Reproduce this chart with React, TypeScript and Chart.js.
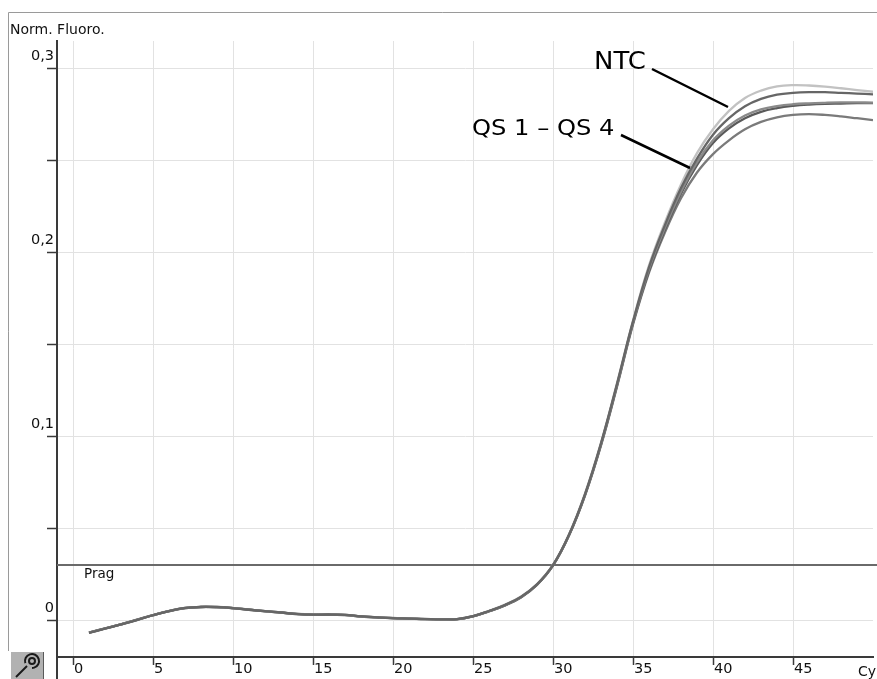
import { useEffect, useRef } from "react";
import { Chart, registerables } from "chart.js";

Chart.register(...registerables);

const CYCLES = [
  1, 2, 3, 4, 5, 6, 7, 8, 9, 10, 11, 12, 13, 14, 15, 16, 17, 18, 19, 20, 21, 22, 23, 24, 25,
  26, 27, 28, 29, 30, 31, 32, 33, 34, 35, 36, 37, 38, 39, 40, 41, 42, 43, 44, 45, 46, 47, 48, 49, 50,
];

const NTC = [
  -0.0068, -0.0045, -0.0022, 0.0002, 0.0028, 0.0051, 0.0066, 0.0071, 0.0071, 0.0066,
  0.0058, 0.0049, 0.0041, 0.0034, 0.0030, 0.0031, 0.0028, 0.0021, 0.0015, 0.0011,
  0.0009, 0.0006, 0.0005, 0.0006, 0.0023, 0.0051, 0.0085, 0.0129, 0.0197, 0.0302,
  0.0468, 0.0690, 0.0966, 0.1290, 0.1630, 0.1930, 0.2165, 0.2370, 0.2540, 0.2670,
  0.2770, 0.2840, 0.2880, 0.2903, 0.2910, 0.2908, 0.2902, 0.2893, 0.2883, 0.2874,
];
const QS1 = [
  -0.0069, -0.0046, -0.0023, 0.0001, 0.0027, 0.0050, 0.0067, 0.0073, 0.0072, 0.0066,
  0.0057, 0.0049, 0.0042, 0.0033, 0.0030, 0.0031, 0.0029, 0.0021, 0.0015, 0.0011,
  0.0009, 0.0007, 0.0005, 0.0006, 0.0022, 0.0050, 0.0083, 0.0127, 0.0195, 0.0300,
  0.0465, 0.0685, 0.0962, 0.1285, 0.1625, 0.1920, 0.2150, 0.2350, 0.2510, 0.2640,
  0.2730, 0.2795, 0.2835, 0.2858, 0.2868, 0.2872, 0.2872, 0.2868, 0.2864, 0.2860,
];
const QS2 = [
  -0.0068, -0.0045, -0.0022, 0.0002, 0.0027, 0.0050, 0.0067, 0.0072, 0.0071, 0.0065,
  0.0058, 0.0050, 0.0042, 0.0034, 0.0031, 0.0032, 0.0029, 0.0020, 0.0015, 0.0012,
  0.0009, 0.0006, 0.0005, 0.0006, 0.0022, 0.0049, 0.0082, 0.0126, 0.0194, 0.0299,
  0.0463, 0.0683, 0.0958, 0.1280, 0.1620, 0.1910, 0.2135, 0.2330, 0.2490, 0.2610,
  0.2690, 0.2745, 0.2778, 0.2796, 0.2806, 0.2811, 0.2814, 0.2816, 0.2816, 0.2815,
];
const QS3 = [
  -0.0067, -0.0044, -0.0022, 0.0003, 0.0028, 0.0050, 0.0066, 0.0072, 0.0071, 0.0066,
  0.0058, 0.0049, 0.0042, 0.0034, 0.0030, 0.0030, 0.0029, 0.0021, 0.0016, 0.0011,
  0.0008, 0.0006, 0.0005, 0.0006, 0.0021, 0.0049, 0.0081, 0.0125, 0.0193, 0.0298,
  0.0462, 0.0681, 0.0955, 0.1276, 0.1615, 0.1900, 0.2125, 0.2320, 0.2475, 0.2595,
  0.2675, 0.2730, 0.2765, 0.2785, 0.2797, 0.2804, 0.2808, 0.2810, 0.2812, 0.2812,
];
const QS4 = [
  -0.0068, -0.0045, -0.0023, 0.0002, 0.0027, 0.0049, 0.0066, 0.0072, 0.0072, 0.0066,
  0.0057, 0.0048, 0.0041, 0.0033, 0.0029, 0.0031, 0.0028, 0.0020, 0.0015, 0.0011,
  0.0009, 0.0006, 0.0005, 0.0005, 0.0021, 0.0048, 0.0080, 0.0124, 0.0192, 0.0297,
  0.0460, 0.0678, 0.0950, 0.1270, 0.1608, 0.1890, 0.2110, 0.2295, 0.2435, 0.2535,
  0.2610, 0.2670, 0.2710, 0.2735, 0.2748, 0.2752, 0.2748, 0.2740, 0.2730, 0.2720,
];

const SERIES_NAMES = ["NTC", "QS 1", "QS 2", "QS 3", "QS 4"];
const SERIES_VALUES = [NTC, QS1, QS2, QS3, QS4];
const SERIES_COLORS = ["#c2c2c2", "#666666", "#8a8a8a", "#5a5a5a", "#7a7a7a"];

const X_TICKS = [0, 5, 10, 15, 20, 25, 30, 35, 40, 45];
const Y_TICKS = [0, 0.05, 0.1, 0.15, 0.2, 0.25, 0.3];
const Y_TICK_LABELS = ["0", "", "0,1", "", "0,2", "", "0,3"];
const THRESHOLD = 0.03;
const X_MIN = -1;
const X_MAX = 50;
const Y_MIN = -0.02;
const Y_MAX = 0.315;

const Y_TITLE = "Norm. Fluoro.";
const X_TITLE = "Cy";
const THRESHOLD_LABEL = "Prag";
const NTC_LABEL = "NTC";
const QS_LABEL = "QS 1 – QS 4";

const FONT = "DejaVu Sans";

const decorations = {
  id: "decorations",
  afterDraw(chart: any) {
    const ctx = chart.ctx as CanvasRenderingContext2D;
    const area = chart.chartArea;
    const W = chart.width;
    ctx.save();
    // frame
    ctx.strokeStyle = "#9a9a9a";
    ctx.lineWidth = 1;
    ctx.beginPath();
    ctx.moveTo(8.5, 651);
    ctx.lineTo(8.5, 12.5);
    ctx.lineTo(W, 12.5);
    ctx.stroke();

    // y axis extension below x axis
    ctx.strokeStyle = "#3a3a3a";
    ctx.lineWidth = 2;
    ctx.beginPath();
    ctx.moveTo(area.left, area.bottom);
    ctx.lineTo(area.left, chart.height);
    ctx.stroke();

    // texts
    ctx.fillStyle = "#111";
    ctx.textBaseline = "alphabetic";
    ctx.textAlign = "left";
    ctx.font = `14px "${FONT}"`;
    ctx.fillText(Y_TITLE, 10, 34);
    ctx.fillText(X_TITLE, 858, 676);
    ctx.font = `13.5px "${FONT}"`;
    const ty = chart.scales.y.getPixelForValue(THRESHOLD);
    ctx.fillText(THRESHOLD_LABEL, 84, ty + 13);

    // annotations
    ctx.fillStyle = "#000";
    ctx.save();
    ctx.font = `24px "${FONT}"`;
    ctx.translate(594, 69);
    ctx.scale(1.08, 1);
    ctx.fillText(NTC_LABEL, 0, 0);
    ctx.restore();
    ctx.save();
    ctx.font = `22px "${FONT}"`;
    ctx.translate(472, 135);
    ctx.scale(1.1, 1);
    ctx.fillText(QS_LABEL, 0, 0);
    ctx.restore();

    ctx.strokeStyle = "#000";
    ctx.lineWidth = 2.5;
    ctx.beginPath();
    ctx.moveTo(652, 69);
    ctx.lineTo(728, 107);
    ctx.moveTo(621, 135);
    ctx.lineTo(690, 168);
    ctx.stroke();

    // wrench icon
    ctx.fillStyle = "#b2b2b2";
    ctx.fillRect(11, 652, 33, 27);
    ctx.strokeStyle = "#5a5a5a";
    ctx.lineWidth = 1;
    ctx.beginPath();
    ctx.moveTo(43.5, 652);
    ctx.lineTo(43.5, 679);
    ctx.stroke();
    ctx.strokeStyle = "#1a1a1a";
    ctx.lineWidth = 2;
    ctx.beginPath();
    ctx.moveTo(16, 677);
    ctx.lineTo(27, 666);
    ctx.stroke();
    ctx.beginPath();
    ctx.arc(32, 661, 7, Math.PI * 0.9, Math.PI * 2.5);
    ctx.stroke();
    ctx.beginPath();
    ctx.arc(32, 661, 3, 0, Math.PI * 2);
    ctx.stroke();
    ctx.restore();
  },
};

export default function App() {
  const ref = useRef<HTMLCanvasElement | null>(null);

  useEffect(() => {
    if (!ref.current) return;
    const datasets: any[] = SERIES_VALUES.map((vals, i) => ({
      label: SERIES_NAMES[i],
      data: CYCLES.map((c, j) => ({ x: c, y: vals[j] })),
      borderColor: SERIES_COLORS[i],
      borderWidth: 2.3,
      pointRadius: 0,
      tension: 0.4,
      fill: false,
      order: i === 0 ? 5 : i,
    }));
    datasets.push({
      label: THRESHOLD_LABEL,
      data: [
        { x: X_MIN, y: THRESHOLD },
        { x: X_MAX + 0.3, y: THRESHOLD },
      ],
      borderColor: "#6a6a6a",
      borderWidth: 2,
      pointRadius: 0,
      fill: false,
      clip: { left: 0, top: 0, right: 4, bottom: 0 },
      order: 10,
    });

    const chart = new Chart(ref.current, {
      type: "line",
      data: { datasets },
      options: {
        animation: false,
        responsive: false,
        devicePixelRatio: 1,
        layout: { padding: { left: 0, right: 4, top: 41, bottom: 0 } },
        plugins: { legend: { display: false }, tooltip: { enabled: false } },
        scales: {
          x: {
            type: "linear",
            min: X_MIN,
            max: X_MAX,
            afterBuildTicks: (s: any) => {
              s.ticks = X_TICKS.map((v) => ({ value: v }));
            },
            afterFit: (s: any) => {
              s.height = 22;
            },
            ticks: {
              autoSkip: false,
              maxRotation: 0,
              align: "start",
              labelOffset: 1,
              padding: -4,
              color: "#111",
              font: { family: FONT, size: 14.5 },
              callback: (v: any) => String(v),
            },
            grid: {
              color: "#e2e2e2",
              lineWidth: 1,
              tickLength: 8,
              tickColor: "#3a3a3a",
              tickWidth: 1.5,
            },
            border: { color: "#3a3a3a", width: 2 },
          },
          y: {
            type: "linear",
            min: Y_MIN,
            max: Y_MAX,
            afterBuildTicks: (s: any) => {
              s.ticks = Y_TICKS.map((v) => ({ value: v }));
            },
            afterFit: (s: any) => {
              s.width = 57;
            },
            ticks: {
              autoSkip: false,
              labelOffset: -12,
              padding: -7,
              color: "#111",
              font: { family: FONT, size: 14.5 },
              callback: (_v: any, i: number) => Y_TICK_LABELS[i],
            },
            grid: {
              color: "#e2e2e2",
              lineWidth: 1,
              tickLength: 10,
              tickColor: "#3a3a3a",
              tickWidth: 1.5,
            },
            border: { color: "#3a3a3a", width: 2 },
          },
        },
      },
      plugins: [decorations],
    });
    return () => chart.destroy();
  }, []);

  return (
    <canvas
      ref={ref}
      width={877}
      height={679}
      style={{ position: "fixed", left: 0, top: 0, width: 877, height: 679, display: "block" }}
    />
  );
}
